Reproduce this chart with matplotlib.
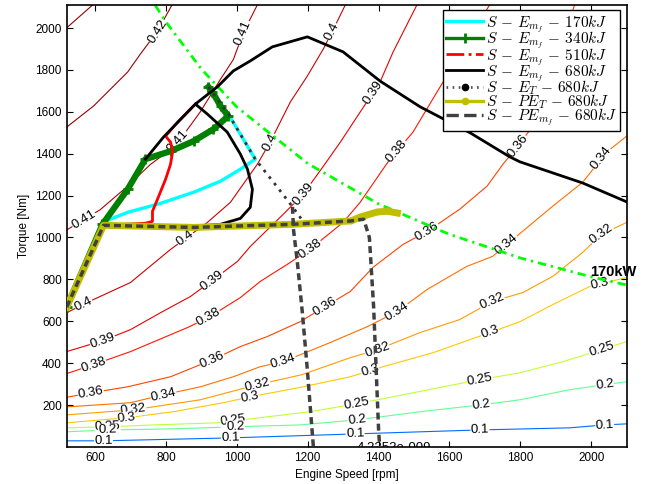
import numpy as np
import matplotlib.pyplot as plt
from matplotlib.lines import Line2D

plt.rcParams['font.family'] = ['Liberation Sans', 'DejaVu Sans']
plt.rcParams['mathtext.fontset'] = 'cm'

# efficiency map contour lines, engine speed [rpm] / torque [Nm]
eff_corner_rpm = [520, 593]
eff_corner_nm = [2001, 2110]
eff_042_rpm = [520, 596, 692, 728, 776, 817]
eff_042_nm = [1527, 1628, 1790, 1876, 1985, 2110]
eff_041_rpm = [520, 614, 690, 755, 812, 854, 897, 953, 990, 1018, 1058]
eff_041_nm = [1036, 1132, 1242, 1347, 1419, 1500, 1600, 1753, 1849, 1977, 2111]
eff_040_rpm = [520, 596, 700, 813, 917, 982, 1058, 1094, 1151, 1199, 1244, 1269, 1306]
eff_040_nm = [641, 704, 785, 943, 1072, 1168, 1350, 1455, 1647, 1771, 1900, 1982, 2110]
eff_039_rpm = [520, 621, 700, 785, 869, 931, 1002, 1038, 1131, 1187, 1244, 1292, 1348, 1404, 1441, 1508]
eff_039_nm = [455, 507, 560, 641, 718, 795, 886, 957, 1111, 1206, 1340, 1455, 1599, 1742, 1886, 2110]
eff_038_rpm = [520, 596, 700, 861, 920, 1010, 1066, 1151, 1213, 1300, 1348, 1432, 1497, 1565, 1713]
eff_038_nm = [350, 393, 455, 570, 618, 713, 790, 881, 953, 1072, 1168, 1374, 1503, 1695, 2110]
eff_036_rpm = [520, 588, 692, 813, 931, 1010, 1086, 1179, 1249, 1320, 1384, 1469, 1537, 1629, 1706,
               1751, 1793, 1835, 1953]
eff_036_nm = [237, 258, 287, 335, 416, 479, 527, 598, 670, 742, 857, 967, 1029, 1135, 1245,
              1350, 1436, 1532, 2110]
eff_034_rpm = [520, 700, 793, 897, 990, 1066, 1131, 1263, 1368, 1452, 1537, 1649, 1722, 1779, 1891,
               1976, 2043, 2100]
eff_034_nm = [191, 211, 249, 287, 335, 383, 407, 498, 574, 646, 752, 862, 910, 991, 1149,
              1264, 1407, 1484]
eff_032_rpm = [520, 708, 897, 1058, 1184, 1320, 1396, 1517, 1629, 1720, 1807, 1891, 1976, 2029, 2100]
eff_032_nm = [153, 177, 225, 297, 345, 426, 464, 546, 608, 694, 737, 814, 929, 1015, 1072]
eff_030_rpm = [520, 688, 821, 962, 1038, 1187, 1320, 1413, 1554, 1714, 1799, 1892, 1996, 2100]
eff_030_nm = [115, 139, 168, 211, 239, 287, 335, 383, 450, 546, 598, 680, 766, 809]
eff_025_rpm = [520, 635, 765, 945, 1038, 1207, 1339, 1413, 1582, 1686, 1799, 1920, 2029, 2100]
eff_025_nm = [91, 96, 105, 115, 134, 168, 206, 230, 287, 321, 354, 407, 464, 503]
eff_020_rpm = [520, 635, 813, 996, 1179, 1339, 1517, 1691, 1799, 1939, 2038, 2100]
eff_020_nm = [72, 81, 86, 96, 105, 129, 168, 201, 225, 273, 297, 311]
eff_010_rpm = [520, 624, 982, 1334, 1517, 1686, 1939, 2038, 2100]
eff_010_nm = [29, 29, 43, 62, 72, 81, 91, 105, 110]

# 170 kW power limit
power_rpm = [770, 800, 900, 1000, 1200, 1400, 1600, 1800, 2000, 2100]
power_nm = [2108, 2029, 1804, 1623, 1353, 1160, 1015, 902, 812, 773]

# operating strategies
emf170_rpm = [624, 692, 785, 878, 954, 1010, 1052, 976]
emf170_nm = [1075, 1120, 1163, 1216, 1269, 1326, 1374, 1589]
emf340_rpm = [520, 621, 692, 742, 813, 878, 934, 976, 954, 931, 920]
emf340_nm = [668, 1063, 1230, 1374, 1412, 1460, 1517, 1580, 1628, 1695, 1719]
emf510_rpm = [520, 621, 742, 762, 762, 776, 799, 813, 819, 813, 799, 833, 878]
emf510_nm = [668, 1058, 1068, 1077, 1125, 1182, 1278, 1350, 1412, 1455, 1484, 1551, 1628]
emf680_rpm = [878, 954, 1010, 1038, 1044, 1030, 1010, 973, 917, 883, 945, 990, 1038, 1100, 1199,
              1300, 1404, 1517, 1658, 1770, 1799, 1976, 2100, np.nan, 742, 793, 883]
emf680_nm = [1053, 1063, 1091, 1144, 1230, 1326, 1398, 1503, 1589, 1637, 1719, 1795, 1843, 1910, 1958,
             1886, 1747, 1624, 1500, 1385, 1361, 1260, 1170, np.nan, 1374, 1479, 1637]
et680_rpm = [920, 976, 1052, 1108, 1156, 1187]
et680_nm = [1719, 1589, 1374, 1254, 1149, 1077]
pet680_rpm = [520, 624, 878, 1159, 1322, 1349, 1397, 1425, 1453]
pet680_nm = [668, 1058, 1048, 1063, 1079, 1098, 1122, 1125, 1117]
pemf680_rpm = [520, 624, 878, 1159, 1322, 1358, 1374, 1386, 1400, 1403,
               np.nan, 1157, 1160, 1171, 1185, 1199, 1216]
pemf680_nm = [668, 1058, 1048, 1063, 1079, 1087, 1000, 668, 81, 0,
              np.nan, 1146, 1036, 878, 639, 367, 0]

contours = [
    (0.42, eff_corner_rpm, eff_corner_nm, []),
    (0.42, eff_042_rpm, eff_042_nm, [776]),
    (0.41, eff_041_rpm, eff_041_nm, [568, 833, 1018]),
    (0.40, eff_040_rpm, eff_040_nm, [568, 855, 1094, 1269]),
    (0.39, eff_039_rpm, eff_039_nm, [621, 931, 1187, 1385]),
    (0.38, eff_038_rpm, eff_038_nm, [596, 920, 1207, 1452]),
    (0.36, eff_036_rpm, eff_036_nm, [588, 931, 1249, 1537, 1793]),
    (0.34, eff_034_rpm, eff_034_nm, [793, 1131, 1452, 1762, 2029]),
    (0.32, eff_032_rpm, eff_032_nm, [708, 1058, 1396, 1720, 2029]),
    (0.30, eff_030_rpm, eff_030_nm, [688, 1038, 1376, 1714, 2024]),
    (0.25, eff_025_rpm, eff_025_nm, [635, 990, 1339, 1686, 2029]),
    (0.20, eff_020_rpm, eff_020_nm, [635, 996, 1339, 1691, 2038]),
    (0.10, eff_010_rpm, eff_010_nm, [624, 982, 1334, 1686, 2038]),
]

fig = plt.figure(figsize=(6.54, 4.84), dpi=100)
ax = fig.add_axes([66.7 / 654, (484 - 446.9) / 484, 560 / 654, 441.9 / 484])
ax.set_xlim(520, 2100)
ax.set_ylim(0, 2110)

for level, xs, ys, spots in contours:
    col = plt.cm.jet(level / 0.43)
    ax.plot(xs, ys, color=col, lw=0.8, zorder=1)
    for x0 in spots:
        y0 = np.interp(x0, xs, ys)
        p = ax.transData.transform([(x0 - 12, np.interp(x0 - 12, xs, ys)),
                                    (x0 + 12, np.interp(x0 + 12, xs, ys))])
        ang = np.degrees(np.arctan2(p[1, 1] - p[0, 1], p[1, 0] - p[0, 0]))
        ax.text(x0, y0, f'{level:g}', rotation=ang, rotation_mode='anchor',
                ha='center', va='center', fontsize=9.5, zorder=2,
                bbox=dict(fc='white', ec='none', pad=0.2))

ax.text(1442, -6, '4.2352e-009', fontsize=9.5, ha='center', va='center',
        clip_on=True, zorder=2)

ax.plot(power_rpm, power_nm, color='#00ff00', lw=2, dashes=(3, 1.8, 0.8, 1.8), zorder=2.5)
ax.text(1998, 833, '170kW', fontsize=10.5, fontweight='bold', ha='left', va='center', zorder=6)

ax.plot(emf170_rpm, emf170_nm, color='#00ffff', lw=2.4, zorder=3)
ax.plot(emf340_rpm, emf340_nm, color='#008000', lw=4.5, marker='+', ms=7, mew=2, zorder=3.1)
ax.plot(emf510_rpm, emf510_nm, color='red', lw=2, zorder=3.2)
ax.plot(emf680_rpm, emf680_nm, color='black', lw=2, zorder=3.3)
ax.plot(et680_rpm, et680_nm, color='#333333', lw=2, dashes=(1, 2), zorder=3.4)
ax.plot(pet680_rpm, pet680_nm, color='#bfbf00', lw=5, marker='.', ms=6, zorder=3.5)
ax.plot(pemf680_rpm, pemf680_nm, color='#404040', lw=2.5, dashes=(2, 1.2), zorder=3.6)

handles = [
    Line2D([], [], color='#00ffff', lw=2.4),
    Line2D([], [], color='#008000', lw=2.4, marker='+', ms=7, mew=2),
    Line2D([], [], color='red', lw=2, ls='-.'),
    Line2D([], [], color='black', lw=2),
    Line2D([], [], color='#555555', lw=2, dashes=(0.6, 1.6), marker='.', mfc='black', mec='black', ms=9),
    Line2D([], [], color='#bfbf00', lw=2.4, marker='.', ms=9),
    Line2D([], [], color='#404040', lw=2.4, ls='--'),
]
labels = [r'$S\,-\,E_{m_f}\,-\,170kJ$', r'$S\,-\,E_{m_f}\,-\,340kJ$', r'$S\,-\,E_{m_f}\,-\,510kJ$',
          r'$S\,-\,E_{m_f}\,-\,680kJ$', r'$S\,-\,E_{T}\,-\,680kJ$', r'$S\,-\,PE_{T}\,-\,680kJ$',
          r'$S\,-\,PE_{m_f}\,-\,680kJ$']
leg = ax.legend(handles, labels, loc='upper right', bbox_to_anchor=(620 / 654, 1 - 10 / 484),
                bbox_transform=fig.transFigure, borderaxespad=0, fontsize=11, numpoints=1,
                handlelength=2.4, handletextpad=0.2, labelspacing=-0.3, borderpad=0.2,
                fancybox=False, framealpha=1, edgecolor='black')
leg.get_frame().set_linewidth(1.0)
leg.set_zorder(10)

ax.set_xticks(range(600, 2001, 200))
ax.set_yticks(range(200, 2001, 200))
ax.tick_params(direction='in', top=True, right=True, length=4, width=0.8, labelsize=8.5)
for s in ax.spines.values():
    s.set_linewidth(1.2)
ax.set_xlabel('Engine Speed [rpm]', fontsize=8.5, labelpad=4)
ax.set_ylabel('Torque [Nm]', fontsize=8.5, labelpad=4)

fig.savefig('out.png', dpi=100)
